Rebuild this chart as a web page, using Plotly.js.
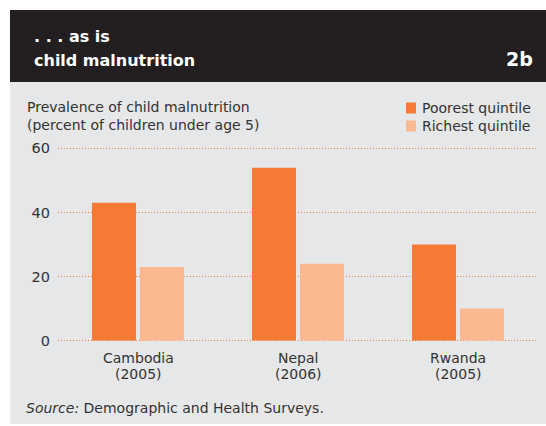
<!DOCTYPE html>
<html>
<head>
<meta charset="utf-8">
<script src="https://cdn.plot.ly/plotly-3.0.1.min.js"></script>
<style>html,body{margin:0;padding:0;background:#fff;}#chart{width:546px;height:426px;}</style>
</head>
<body>
<div id="chart"></div>
<script>
// ---- data ----
const countries = ["Cambodia", "Nepal", "Rwanda"];
const years = ["(2005)", "(2006)", "(2005)"];
const seriesNames = ["Poorest quintile", "Richest quintile"];
const poorest = [43, 54, 30];
const richest = [23, 24, 10];
const yTicks = [0, 20, 40, 60];

// ---- layout helpers (pixel -> paper) ----
const W = 546, H = 426;
const mL = 58, mR = 8, mT = 142, mB = 79;
const pw = W - mL - mR, ph = H - mT - mB;
const px = x => (x - mL) / pw;
const py = y => (H - mB - y) / ph;

const colors = ["#f47a35", "#fbb78f"];
const font = "'DejaVu Sans', Verdana, sans-serif";

const traces = [
  {type: "bar", name: seriesNames[0], x: countries, y: poorest, marker: {color: colors[0]}, hoverinfo: "y+name"},
  {type: "bar", name: seriesNames[1], x: countries, y: richest, marker: {color: colors[1]}, hoverinfo: "y+name"}
];

const shapes = [
  {type: "rect", xref: "paper", yref: "paper", x0: px(10), x1: px(546), y0: py(424), y1: py(82), fillcolor: "#e6e7e8", line: {width: 0}, layer: "below"},
  {type: "rect", xref: "paper", yref: "paper", x0: px(10), x1: px(546), y0: py(82), y1: py(10), fillcolor: "#231f20", line: {width: 0}, layer: "below"}
];
// manual legend
seriesNames.forEach((n, i) => {
  const cy = 108 + i * 18;
  shapes.push({type: "rect", xref: "paper", yref: "paper", x0: px(406), x1: px(416), y0: py(cy + 5.5), y1: py(cy - 5.5), fillcolor: colors[i], line: {width: 0}});
});

const annotations = [
  {text: "<b>. . . as is</b>", x: px(33), y: py(36.5), xanchor: "left", yanchor: "middle", font: {family: font, size: 16, color: "#fff"}},
  {text: "<b>child malnutrition</b>", x: px(33), y: py(60), xanchor: "left", yanchor: "middle", font: {family: font, size: 16, color: "#fff"}},
  {text: "<b>2b</b>", x: px(534), y: py(59), xanchor: "right", yanchor: "middle", font: {family: font, size: 19, color: "#fff"}},
  {text: "Prevalence of child malnutrition<br>(percent of children under age 5)", x: px(26), y: py(116.5), xanchor: "left", yanchor: "middle", align: "left", font: {family: font, size: 14, color: "#333"}},
  {text: "<i>Source:</i> Demographic and Health Surveys.", x: px(25), y: py(408), xanchor: "left", yanchor: "middle", font: {family: font, size: 14, color: "#333"}}
];
seriesNames.forEach((n, i) => {
  annotations.push({text: n, x: px(421), y: py(108 + i * 18), xanchor: "left", yanchor: "middle", font: {family: font, size: 14, color: "#333"}});
});
annotations.forEach(a => { a.xref = "paper"; a.yref = "paper"; });
// category labels, positioned on the category axis
countries.forEach((c, i) => {
  annotations.push({text: c, xref: "x", yref: "paper", x: c, y: py(358), xanchor: "center", yanchor: "middle", font: {family: font, size: 14, color: "#333"}});
  annotations.push({text: years[i], xref: "x", yref: "paper", x: c, y: py(374), xanchor: "center", yanchor: "middle", font: {family: font, size: 14, color: "#333"}});
});
annotations.forEach(a => { a.showarrow = false; a.borderpad = 0; });

const layout = {
  width: W, height: H,
  margin: {l: mL, r: mR, t: mT, b: mB, pad: 0},
  paper_bgcolor: "rgba(0,0,0,0)", plot_bgcolor: "rgba(0,0,0,0)",
  showlegend: false,
  barmode: "group", bargap: 0.4, bargroupgap: 0.083,
  font: {family: font, size: 14, color: "#333"},
  xaxis: {
    type: "category", range: [-0.5, 2.5], categoryarray: countries,
    showgrid: false, zeroline: false, showline: false, ticks: "", showticklabels: false, fixedrange: true
  },
  yaxis: {
    range: [-2, 62], tickvals: yTicks, showgrid: true, gridcolor: "#f47a35", gridwidth: 1, griddash: "1px,2px",
    zeroline: false, showline: false, ticks: "", ticklabelstandoff: 7, tickfont: {family: font, size: 14.5, color: "#333"}, fixedrange: true
  },
  shapes: shapes,
  annotations: annotations
};

Plotly.newPlot("chart", traces, layout, {displayModeBar: false, staticPlot: true});
</script>
</body>
</html>
